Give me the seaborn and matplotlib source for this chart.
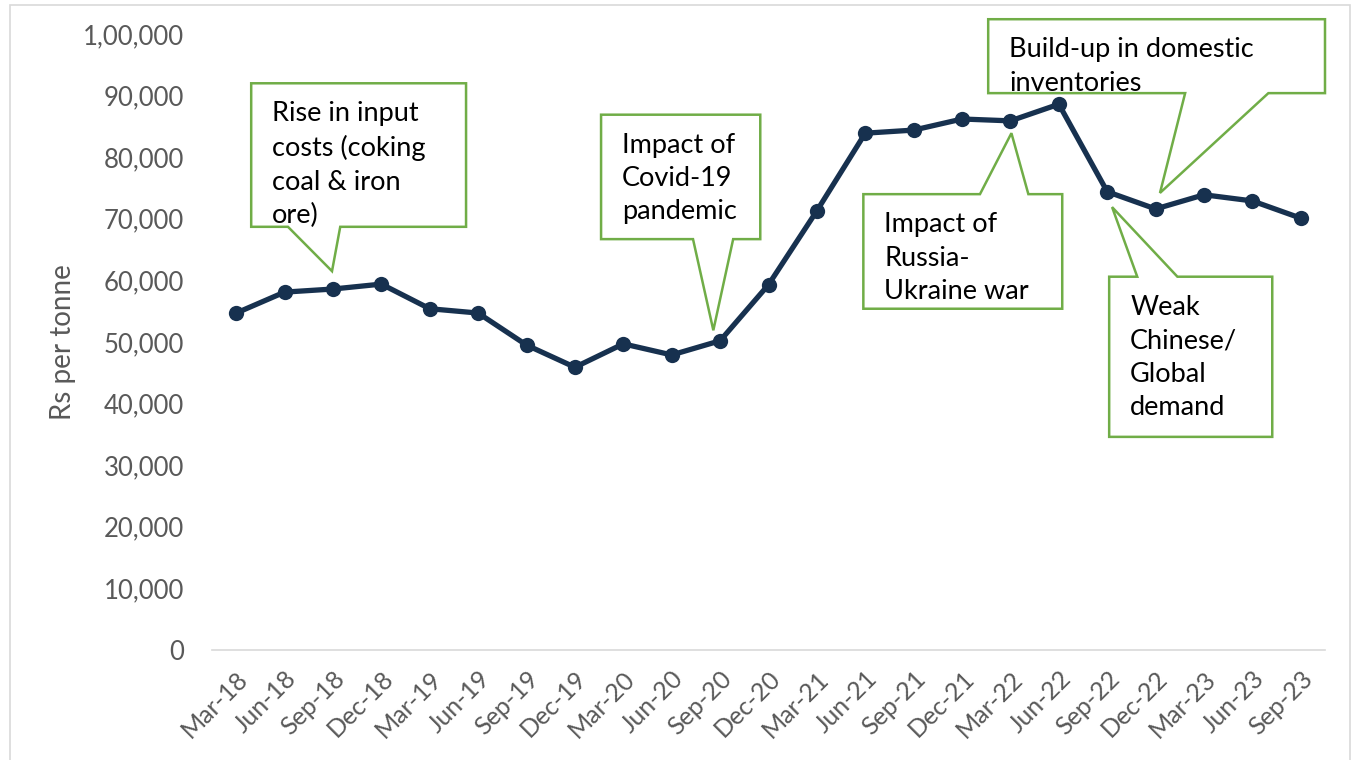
import numpy as np
import pandas as pd
import matplotlib
matplotlib.use("Agg")
import matplotlib.pyplot as plt
from matplotlib.patches import Polygon, Rectangle
import seaborn as sns

# Domestic steel price series (Rs per tonne), quarterly
months = ["Mar-18", "Jun-18", "Sep-18", "Dec-18", "Mar-19", "Jun-19", "Sep-19",
          "Dec-19", "Mar-20", "Jun-20", "Sep-20", "Dec-20", "Mar-21", "Jun-21",
          "Sep-21", "Dec-21", "Mar-22", "Jun-22", "Sep-22", "Dec-22", "Mar-23",
          "Jun-23", "Sep-23"]
prices = [54700, 58100, 58600, 59400, 55400, 54700, 49500, 45900, 49700, 47900,
          50200, 59300, 71300, 83900, 84400, 86200, 85900, 88600, 74400, 71600,
          73900, 72900, 70100]

y_ticks = list(range(0, 100001, 10000))

# Callout texts
notes = [
    "Rise in input\ncosts (coking\ncoal & iron\nore)",
    "Impact of\nCovid-19\npandemic",
    "Impact of\nRussia-\nUkraine war",
    "Build-up in domestic\ninventories",
    "Weak\nChinese/\nGlobal\ndemand",
]

LINE = "#17314f"
GREEN = "#70ad47"
GREY = "#595959"

sns.set_theme(style="white")
plt.rcParams["font.family"] = ["Lato", "DejaVu Sans"]

fig = plt.figure(figsize=(13.59, 7.6), dpi=100)
ax = fig.add_axes([212 / 1359, 1 - 650 / 760, (1325 - 212) / 1359, (650 - 34) / 760])

df = pd.DataFrame({"pos": np.arange(len(months)), "price": prices})
sns.lineplot(data=df, x="pos", y="price", ax=ax, color=LINE, linewidth=3.8,
             marker="o", markersize=11, markeredgewidth=0, zorder=3)

ax.set_xlim(-0.5, len(months) - 0.5)
ax.set_ylim(0, 100000)


def indian_format(v):
    s = str(int(round(v)))
    if len(s) <= 3:
        return s
    head, tail = s[:-3], s[-3:]
    groups = []
    while len(head) > 2:
        groups.insert(0, head[-2:])
        head = head[:-2]
    if head:
        groups.insert(0, head)
    return ",".join(groups + [tail])


ax.set_yticks(y_ticks)
ax.set_yticklabels([indian_format(v) for v in y_ticks])
ax.tick_params(axis="y", length=0, pad=20, labelsize=18.5, labelcolor=GREY)

ax.set_xticks(np.arange(len(months)))
ax.set_xticklabels(months, rotation=45, ha="right", rotation_mode="anchor")
ax.tick_params(axis="x", which="major", length=0, pad=12, labelsize=18, labelcolor=GREY)
ax.set_xticks(np.arange(-0.5, len(months)), minor=True)
ax.tick_params(axis="x", which="minor", length=8, width=1.2, color="#d9d9d9",
               direction="out")

for side in ["top", "right", "left"]:
    ax.spines[side].set_visible(False)
ax.spines["bottom"].set_color("#d9d9d9")
ax.spines["bottom"].set_linewidth(1.2)
ax.grid(False)

ax.set_xlabel("")
ax.set_ylabel("Rs per tonne", fontsize=20, color=GREY)
ax.yaxis.set_label_coords(-0.122, 0.5)

# Callout geometry in data units: box (left, right, top, bottom),
# pointer base on one edge (b1, b2) and pointer tip
callouts = [
    dict(box=(0.31, 4.75, 92000, 68700), side="bottom", base=(1.07, 2.15), tip=(1.98, 61500)),
    dict(box=(7.54, 10.83, 86900, 66700), side="bottom", base=(9.44, 10.27), tip=(9.86, 51900)),
    dict(box=(12.96, 17.07, 74000, 55400), side="top", base=(15.37, 16.37), tip=(16.02, 83900)),
    dict(box=(15.54, 22.50, 102400, 90400), side="bottom", base=(19.61, 21.33), tip=(19.09, 74200)),
    dict(box=(18.04, 21.41, 60600, 34600), side="top", base=(18.62, 19.45), tip=(18.10, 71900)),
]

for note, c in zip(notes, callouts):
    L, R, T, B = c["box"]
    b1, b2 = c["base"]
    tip = c["tip"]
    if c["side"] == "bottom":
        verts = [(L, T), (R, T), (R, B), (b2, B), tip, (b1, B), (L, B)]
    else:
        verts = [(L, T), (b1, T), tip, (b2, T), (R, T), (R, B), (L, B)]
    ax.add_patch(Polygon(verts, closed=True, facecolor="white", edgecolor=GREEN,
                         linewidth=1.8, clip_on=False, zorder=2))
    ax.annotate(note, xy=(L, T), xytext=(21, -18), textcoords="offset pixels",
                ha="left", va="top", fontsize=19.5, color="black",
                linespacing=1.42, annotation_clip=False, zorder=4)

# Light frame around the whole figure
fig.add_artist(Rectangle((10 / 1359, -0.01), (1350 - 10) / 1359, 1 - 5 / 760 + 0.01,
                         transform=fig.transFigure, fill=False,
                         edgecolor="#d9d9d9", linewidth=1.2))

fig.savefig("out.png", dpi=100)
